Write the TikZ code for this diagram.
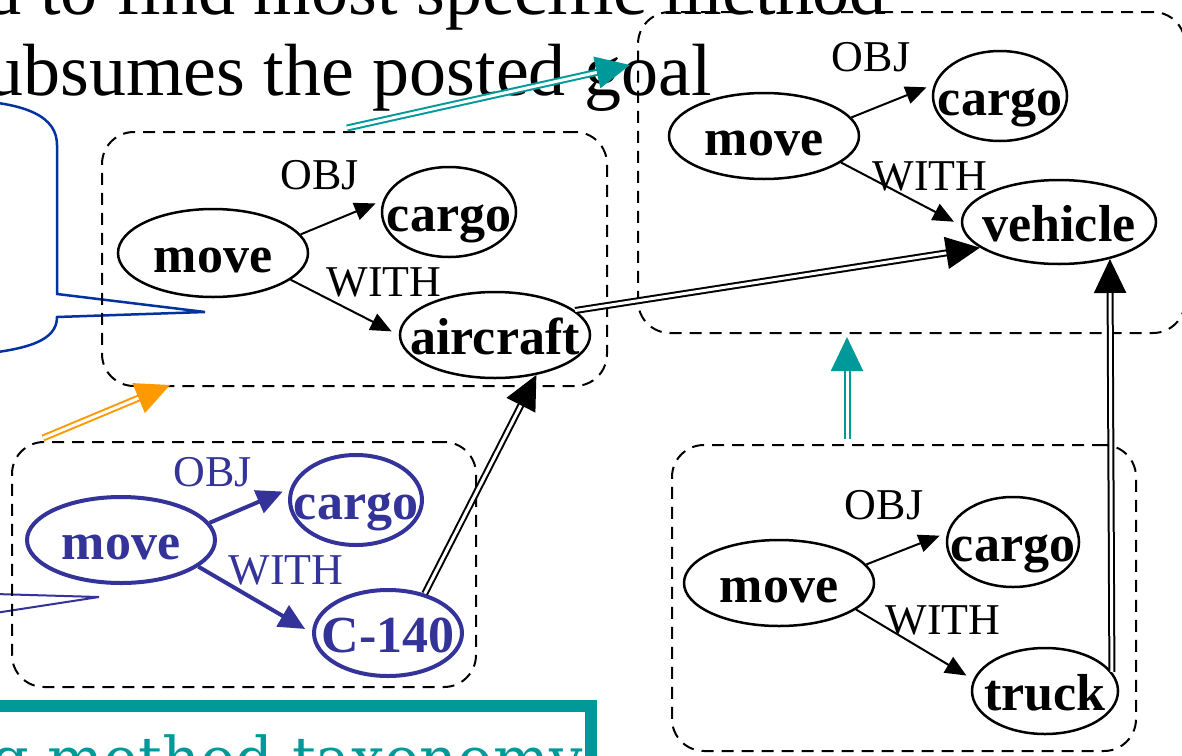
\documentclass[tikz,border=0pt]{standalone}
\usepackage{fontspec}
\setmainfont{Liberation Serif}
\newfontfamily\tealfont{DejaVu Serif}
\usetikzlibrary{arrows.meta,shapes.geometric,calc}
\definecolor{tealc}{RGB}{0,153,153}
\definecolor{orangec}{RGB}{255,153,0}
\definecolor{callblue}{RGB}{0,51,160}
\definecolor{indigoc}{RGB}{51,51,153}
\newcommand\zb[1]{\makebox[0pt]{#1}}
\begin{document}
\begin{tikzpicture}[x=1pt,y=-1pt,
  ell/.style={ellipse, draw, line width=2.5pt, inner sep=0pt, text height=39pt, text depth=0pt,
    font=\fontsize{52}{56}\selectfont\bfseries},
  bell/.style={ell, draw=indigoc, text=indigoc, line width=4pt},
  lab/.style={font=\fontsize{44}{48}\selectfont, inner sep=0pt},
  blab/.style={lab, text=indigoc},
  arr/.style={line width=2pt, -{Triangle[length=21pt,width=18pt]}, shorten >=8pt},
  barr/.style={line width=4pt, draw=indigoc, -{Triangle[length=26pt,width=24pt]}, shorten >=8pt},
  dbl/.style={line width=2pt, double=white, double distance=3pt, -{Triangle[length=34pt,width=32pt]}},
  dbox/.style={draw, dash pattern=on 12pt off 8pt, line width=2pt, rounded corners=32pt, inner sep=0pt},
  bigtext/.style={font=\fontsize{74}{80}\selectfont, inner sep=0pt, anchor=base east}
]
\useasboundingbox (0,0) rectangle (1182,755);
\clip (0,0) rectangle (1182,755);

% title text (cropped)
\node[bigtext] (l1) at (887,14) {Need to find most specific method};
\node[bigtext] (l2) at (712,95) {that subsumes the posted goal};

% blue callout (cropped)
\draw[callblue, line width=2.5pt, line join=miter]
  (-40,100) .. controls (30,102) and (57,118) .. (57,145) -- (57,294) -- (205,312) -- (57,317)
  .. controls (57,340) and (30,350) .. (-30,355);
\draw[indigoc, line width=2pt] (-5,594) -- (99,597) -- (-5,613);

% dashed boxes
\node[dbox, minimum width=505pt, minimum height=254pt] (tlbox) at (354.5,259) {};
\node[dbox, minimum width=547pt, minimum height=321pt] (trbox) at (911.5,172.5) {};
\node[dbox, minimum width=464pt, minimum height=245pt] (blbox) at (244,564.5) {};
\node[dbox, minimum width=464pt, minimum height=306pt] (brbox) at (904,598) {};

% top-left graph
\node[ell, minimum width=190pt, minimum height=88pt] (m1) at (213,253) {\zb{move}};
\node[ell, minimum width=134pt, minimum height=90pt] (c1) at (449,212) {\zb{cargo}};
\node[ell, minimum width=190pt, minimum height=86pt] (air) at (495,335) {\zb{aircraft}};
\node[lab] (o1) at (320,175) {OBJ};
\node[lab] (w1) at (384,282) {WITH};
\draw[arr] (m1.12) -- (c1.170);
\draw[arr] (m1.-19) -- (air.180);

% top-right graph
\node[ell, minimum width=190pt, minimum height=86pt] (m2) at (764,136) {\zb{move}};
\node[ell, minimum width=134pt, minimum height=90pt] (c2) at (1000,96) {\zb{cargo}};
\node[ell, minimum width=194pt, minimum height=84pt] (veh) at (1059,222) {\zb{vehicle}};
\node[lab] (o2) at (871,57) {OBJ};
\node[lab] (w2) at (930,176) {WITH};
\draw[arr] (m2.12) -- (c2.170);
\draw[arr] (m2.-19) -- (veh.182);

% bottom-left graph (blue)
\node[bell, minimum width=188pt, minimum height=86pt] (m3) at (121,540) {\zb{move}};
\node[bell, minimum width=132pt, minimum height=90pt] (c3) at (356,500) {\zb{cargo}};
\node[bell, minimum width=148pt, minimum height=86pt] (c140) at (388,633) {\zb{C-140}};
\node[blab] (o3) at (213,472) {OBJ};
\node[blab] (w3) at (286,570) {WITH};
\draw[barr] (m3.11) -- (c3.170);
\draw[barr] (m3.-19) -- (c140.180);

% bottom-right graph
\node[ell, minimum width=190pt, minimum height=86pt] (m4) at (779,583) {\zb{move}};
\node[ell, minimum width=132pt, minimum height=90pt] (c4) at (1013,542) {\zb{cargo}};
\node[ell, minimum width=146pt, minimum height=86pt] (truck) at (1045,691) {\zb{truck}};
\node[lab] (o4) at (884,505) {OBJ};
\node[lab] (w4) at (943,620) {WITH};
\draw[arr] (m4.12) -- (c4.172);
\draw[arr] (m4.-19) -- (truck.171);

% double arrows
\coordinate (t1) at (347,128);
\coordinate (t2) at (630,65);
\draw[dbl, draw=tealc] (t1) -- (t2);
\coordinate (u1) at (847,439);
\coordinate (u2) at (847,337);
\draw[dbl, draw=tealc] (u1) -- (u2);
\coordinate (g1) at (43,438);
\coordinate (g2) at (170,385);
\draw[dbl, draw=orangec] (g1) -- (g2);
\draw[dbl] (air.17) -- (veh.198);
\draw[dbl] (c140.47) -- (air.-44);
\draw[dbl] (truck.16) -- (veh.-36);

% teal box (cropped)
\draw[tealc, line width=12pt, fill=white] (-30,706) rectangle (591,820);
\node[anchor=base east, inner sep=0pt, text=tealc, font=\tealfont\fontsize{59}{64}\selectfont] (tt) at (583,779) {Using method taxonomy};
\end{tikzpicture}
\end{document}
